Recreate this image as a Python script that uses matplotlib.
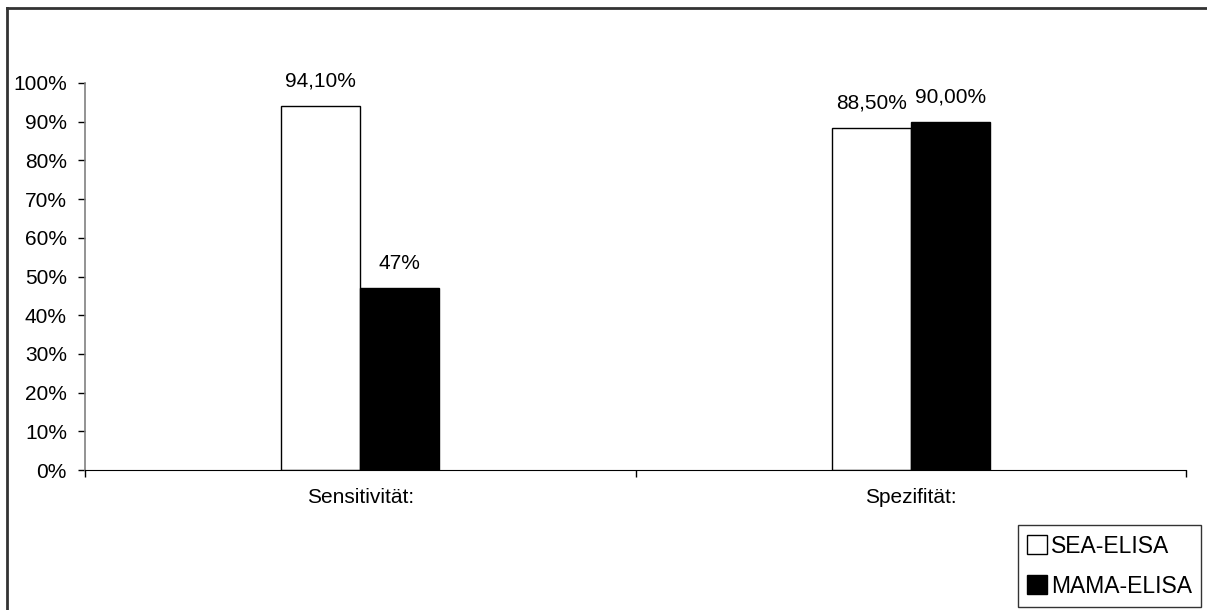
import numpy as np
import matplotlib
matplotlib.use("Agg")
import matplotlib.pyplot as plt
from matplotlib.lines import Line2D

plt.rcParams["font.family"] = ["Liberation Sans", "DejaVu Sans"]

categories = ["Sensitivität:", "Spezifität:"]
sea_values = [0.941, 0.885]
mama_values = [0.47, 0.90]
sea_labels = ["94,10%", "88,50%"]
mama_labels = ["47%", "90,00%"]
series_names = ["SEA-ELISA", "MAMA-ELISA"]

fig = plt.figure(figsize=(12.07, 6.10), dpi=100)
ax = fig.add_axes([85 / 1207, 1 - 470 / 610, (1186 - 85) / 1207, (470 - 83) / 610])

x = np.arange(len(categories))
w = 0.1435
b1 = ax.bar(x - w / 2, sea_values, w, color="white", edgecolor="black", linewidth=1,
            label=series_names[0])
b2 = ax.bar(x + w / 2, mama_values, w, color="black", edgecolor="black", linewidth=1,
            label=series_names[1])

for bars, labels in [(b1, sea_labels), (b2, mama_labels)]:
    for bar, lab in zip(bars, labels):
        ax.annotate(lab, (bar.get_x() + bar.get_width() / 2, bar.get_height()),
                    xytext=(0, 18), textcoords="offset points",
                    ha="center", va="center", fontsize=15)

ax.set_xlim(-0.5, len(categories) - 0.5)
ax.set_ylim(0, 1)
ax.set_yticks(np.linspace(0, 1, 11))
ax.set_yticklabels([f"{int(round(v * 100))}%" for v in np.linspace(0, 1, 11)])
ax.tick_params(axis="y", length=5, width=1, pad=8, labelsize=15, color="black")

ax.set_xticks(np.arange(-0.5, len(categories), 1.0))
ax.set_xticklabels([])
ax.tick_params(axis="x", which="major", length=5, width=1, color="black")
ax.set_xticks(x, minor=True)
ax.set_xticklabels(categories, minor=True)
ax.tick_params(axis="x", which="minor", length=0, pad=13, labelsize=15)

ax.spines["top"].set_visible(False)
ax.spines["right"].set_visible(False)
ax.spines["left"].set_color("#808080")
ax.spines["left"].set_linewidth(1.2)
ax.spines["bottom"].set_color("black")

leg = fig.legend(handles=[b1, b2], loc="lower right",
                 bbox_to_anchor=(1201 / 1207, 1 - 607 / 610), borderaxespad=0,
                 fontsize=16.5, frameon=True, fancybox=False, edgecolor="black",
                 handlelength=0.9, handleheight=0.9, handletextpad=0.15,
                 labelspacing=0.75, borderpad=0.4)
leg.get_frame().set_linewidth(1)

# outer chart frame
fig.add_artist(Line2D([7 / 1207, 7 / 1207], [0, 1 - 8 / 610], color="#333333", lw=2,
                      transform=fig.transFigure))
fig.add_artist(Line2D([7 / 1207, 1], [1 - 8 / 610, 1 - 8 / 610], color="#333333", lw=2,
                      transform=fig.transFigure))

fig.savefig("out.png", dpi=100)
